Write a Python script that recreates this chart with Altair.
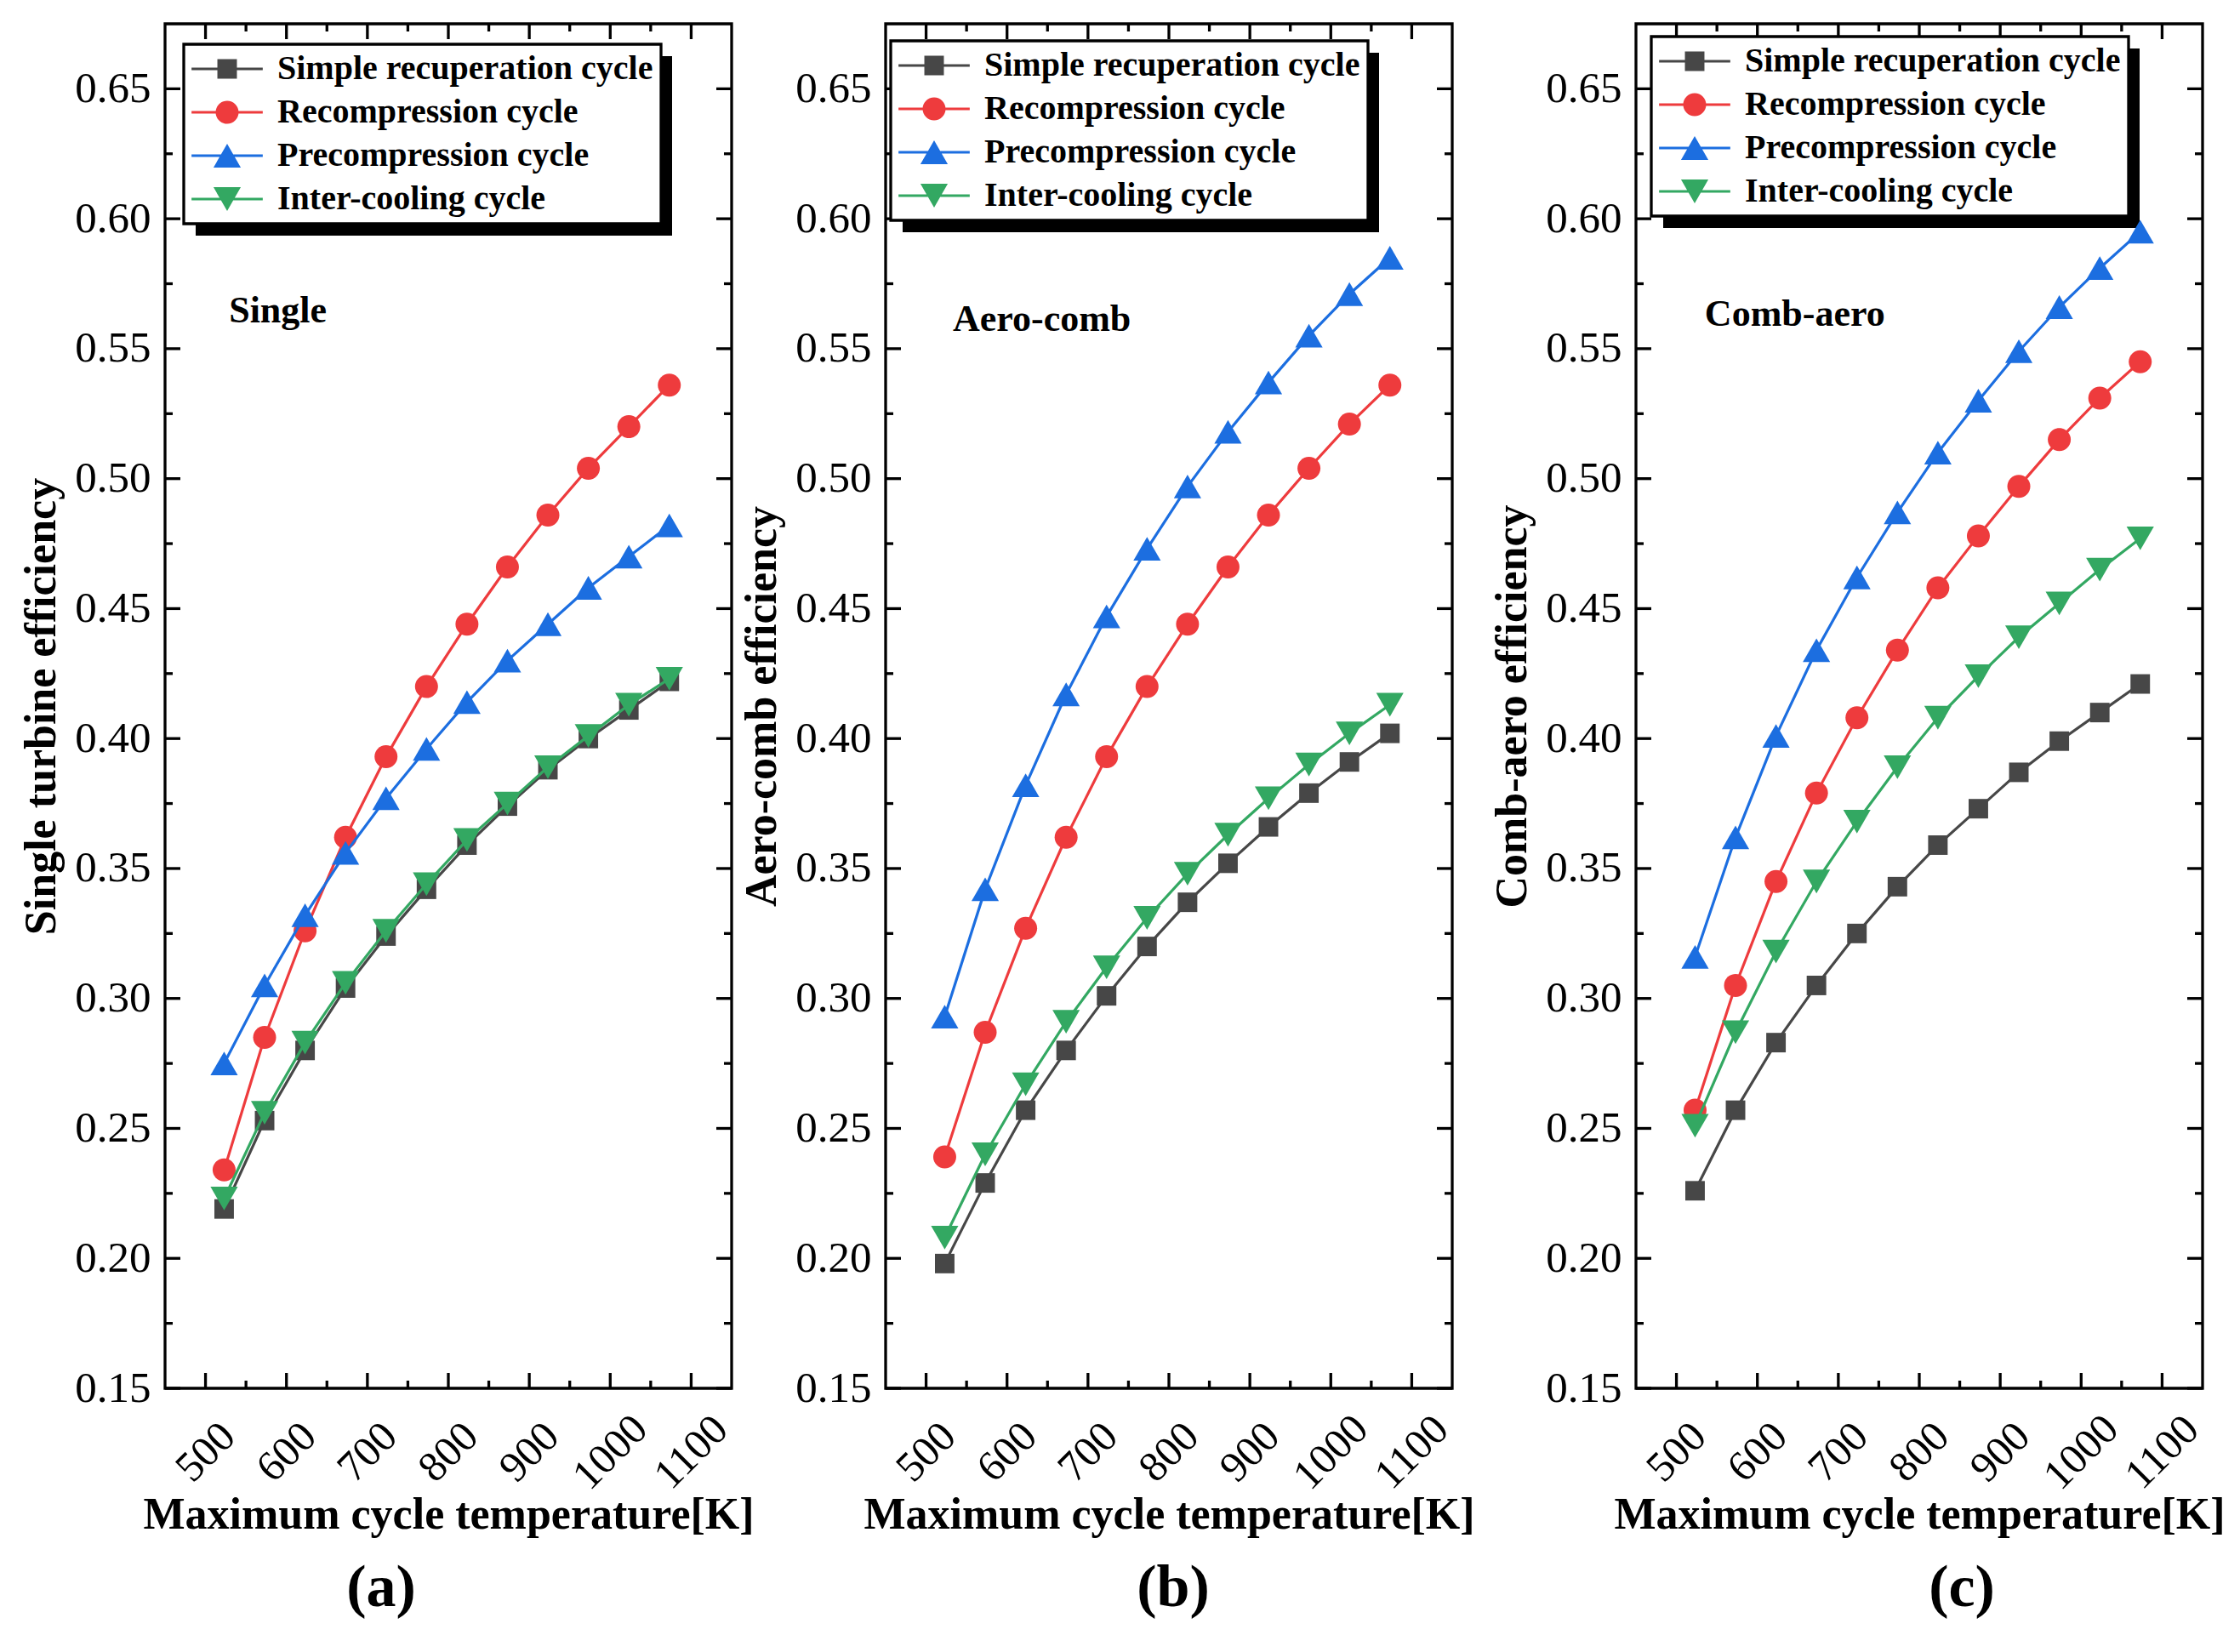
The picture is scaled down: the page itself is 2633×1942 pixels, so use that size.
import altair as alt
import pandas as pd

# ---------------- data ----------------
temps = [523, 573, 623, 673, 723, 773, 823, 873, 923, 973, 1023, 1073]
series_names = ["Simple recuperation cycle", "Recompression cycle",
                "Precompression cycle", "Inter-cooling cycle"]
series_colors = ["#474747", "#ee3b3d", "#1c6ee0", "#33a862"]

single_simple = [0.219, 0.253, 0.280, 0.304, 0.324, 0.342, 0.359, 0.374, 0.388, 0.400, 0.411, 0.422]
single_recomp = [0.234, 0.285, 0.326, 0.362, 0.393, 0.420, 0.444, 0.466, 0.486, 0.504, 0.520, 0.536]
single_precomp = [0.275, 0.305, 0.332, 0.356, 0.377, 0.396, 0.414, 0.430, 0.444, 0.458, 0.470, 0.482]
single_inter = [0.223, 0.256, 0.283, 0.306, 0.326, 0.344, 0.361, 0.375, 0.389, 0.401, 0.413, 0.423]

aero_simple = [0.198, 0.229, 0.257, 0.280, 0.301, 0.320, 0.337, 0.352, 0.366, 0.379, 0.391, 0.402]
aero_recomp = [0.239, 0.287, 0.327, 0.362, 0.393, 0.420, 0.444, 0.466, 0.486, 0.504, 0.521, 0.536]
aero_precomp = [0.293, 0.342, 0.382, 0.417, 0.447, 0.473, 0.497, 0.518, 0.537, 0.555, 0.571, 0.585]
aero_inter = [0.208, 0.240, 0.267, 0.291, 0.312, 0.331, 0.348, 0.363, 0.377, 0.390, 0.402, 0.413]

comb_simple = [0.226, 0.257, 0.283, 0.305, 0.325, 0.343, 0.359, 0.373, 0.387, 0.399, 0.410, 0.421]
comb_recomp = [0.257, 0.305, 0.345, 0.379, 0.408, 0.434, 0.458, 0.478, 0.497, 0.515, 0.531, 0.545]
comb_precomp = [0.316, 0.362, 0.401, 0.434, 0.462, 0.487, 0.510, 0.530, 0.549, 0.566, 0.581, 0.595]
comb_inter = [0.251, 0.287, 0.318, 0.345, 0.368, 0.389, 0.408, 0.424, 0.439, 0.452, 0.465, 0.477]

x_major = [500, 600, 700, 800, 900, 1000, 1100]
x_minor = [550, 650, 750, 850, 950, 1050]
y_major = [0.15, 0.20, 0.25, 0.30, 0.35, 0.40, 0.45, 0.50, 0.55, 0.60, 0.65]
y_minor = [0.175, 0.225, 0.275, 0.325, 0.375, 0.425, 0.475, 0.525, 0.575, 0.625]

# ---------------- styling ----------------
FONT = "Liberation Serif"
FONT_REG = "Times New Roman, Liberation Serif, Tinos, serif"
W, H = 666, 1604
MSIZE = 729
SQUARE = "M-0.85,-0.85H0.85V0.85H-0.85Z"
CIRCLE = "M-1,0A1,1 0 1,1 1,0A1,1 0 1,1 -1,0Z"
TRI_UP = "M0,-1.03L1.19,1.03L-1.19,1.03Z"
TRI_DN = "M0,1.03L-1.19,-1.03L1.19,-1.03Z"
BAR = "M-3.1,-0.12H3.1V0.12H-3.1Z"
marker_paths = [SQUARE, CIRCLE, TRI_UP, TRI_DN]
legend_paths = [BAR + " " + p for p in marker_paths]

xs = alt.Scale(domain=[450, 1150], nice=False, zero=False)
ys = alt.Scale(domain=[0.15, 0.675], nice=False, zero=False)

LEG_W, LEG_H, SHADOW = 560, 211, 14

XAXIS = dict(values=x_major, format="d", labelAngle=315, labelAlign="center",
             labelBaseline="middle", labelPadding=75, ticks=False, tickSize=0,
             domain=False, grid=False, labelFont=FONT_REG, labelFontSize=50,
             labelFontWeight="normal", labelColor="black", labelFlush=False,
             labelOverlap=False, title="Maximum cycle temperature[K]", titleFont=FONT,
             titleFontSize=52, titleFontWeight="bold", titleColor="black",
             titleY=148, titleBaseline="middle")


def yaxis_for(title):
    return alt.Axis(values=y_major, format=".2f", labelPadding=17, ticks=False,
                    tickSize=0, domain=False, grid=False, labelFont=FONT_REG,
                    labelFontSize=51, labelFontWeight="normal", labelColor="black",
                    labelFlush=False, labelOverlap=False, title=title, titleFont=FONT,
                    titleFontSize=52, titleFontWeight="bold", titleColor="black",
                    titlePadding=12)


def panel(values, ytitle, note, note_x, note_y, letter, letter_dx, lx, ly):
    xaxis = alt.Axis(**XAXIS)
    yaxis = yaxis_for(ytitle)
    X = lambda f: alt.X(f, scale=xs, axis=xaxis)
    Y = lambda f: alt.Y(f, scale=ys, axis=yaxis)

    layers = []
    shadow = alt.Chart(pd.DataFrame({"k": [0]})).mark_rect(color="black").encode(
        x=alt.value(lx + SHADOW), x2=alt.value(lx + SHADOW + LEG_W),
        y=alt.value(ly + SHADOW), y2=alt.value(ly + SHADOW + LEG_H))
    layers.append(shadow)

    # inner ticks on all four sides
    for vals, ln in ((x_major, 18), (x_minor, 9)):
        base = alt.Chart(pd.DataFrame({"v": vals})).mark_rule(color="black", strokeWidth=3.3)
        layers.append(base.encode(x=X("v:Q"), y=alt.value(H - ln), y2=alt.value(H)))
        layers.append(base.encode(x=X("v:Q"), y=alt.value(0), y2=alt.value(ln)))
    for vals, ln in ((y_major, 18), (y_minor, 9)):
        base = alt.Chart(pd.DataFrame({"v": vals})).mark_rule(color="black", strokeWidth=3.3)
        layers.append(base.encode(y=Y("v:Q"), x=alt.value(0), x2=alt.value(ln)))
        layers.append(base.encode(y=Y("v:Q"), x=alt.value(W - ln), x2=alt.value(W)))

    for i, (col, vals) in enumerate(zip(series_colors, values)):
        df = pd.DataFrame({"T": temps, "eff": vals})
        line = alt.Chart(df).mark_line(color=col, strokeWidth=3.2).encode(
            x=X("T:Q"), y=Y("eff:Q"))
        pts = alt.Chart(df).mark_point(shape=marker_paths[i], size=MSIZE, filled=True,
                                        color=col, opacity=1, strokeWidth=0).encode(
            x=X("T:Q"), y=Y("eff:Q"))
        layers += [line, pts]

    note_df = pd.DataFrame({"x": [note_x], "y": [note_y], "t": [note]})
    layers.append(alt.Chart(note_df).mark_text(font=FONT, fontSize=44, fontWeight="bold",
                                               align="left", baseline="middle",
                                               color="black").encode(
        x=X("x:Q"), y=Y("y:Q"), text="t:N"))

    legend = alt.Legend(orient="none", legendX=lx, legendY=ly, title=None,
                        direction="vertical", fillColor="white", strokeColor="black",
                        padding=9, rowPadding=11, labelFont=FONT, labelFontSize=40,
                        labelFontWeight="bold", labelColor="black", labelLimit=2000,
                        symbolSize=MSIZE, symbolStrokeWidth=0, symbolOffset=22,
                        labelOffset=39)
    leg_df = pd.DataFrame({"series": series_names})
    layers.append(alt.Chart(leg_df).transform_filter("false").mark_point(
        filled=True, size=MSIZE, opacity=1, strokeWidth=0).encode(
        color=alt.Color("series:N", scale=alt.Scale(domain=series_names, range=series_colors),
                        legend=legend),
        shape=alt.Shape("series:N", scale=alt.Scale(domain=series_names, range=legend_paths),
                        legend=legend)))

    return alt.layer(*layers).properties(
        width=W, height=H,
        title=alt.TitleParams(letter, orient="bottom", anchor="middle", frame="group",
                              font=FONT, fontSize=70, fontWeight="bold", color="black",
                              offset=27, dx=letter_dx))


def spacer(w):
    return alt.Chart(pd.DataFrame({"k": [0]})).mark_point(opacity=0).properties(
        width=w, height=H, view=alt.ViewBackground(strokeOpacity=0, fillOpacity=0))


pa = panel([single_simple, single_recomp, single_precomp, single_inter],
           "Single turbine efficiency", "Single", 529, 0.5645, "(a)", -79, 22, 24)
pb = panel([aero_simple, aero_recomp, aero_precomp, aero_inter],
           "Aero-comb efficiency", "Aero-comb", 533, 0.561, "(b)", 5, 6, 20)
pc = panel([comb_simple, comb_recomp, comb_precomp, comb_inter],
           "Comb-aero efficiency", "Comb-aero", 535, 0.563, "(c)", 50, 18, 15)

chart = alt.hconcat(pa, spacer(181), pb, spacer(216), pc, spacing=0, bounds="flush").resolve_scale(
    color="independent", shape="independent").resolve_legend(
    color="independent", shape="independent").properties(
    padding={"left": 13, "top": 16, "right": 5, "bottom": 5}).configure(
    font=FONT).configure_axis(labelFont=FONT_REG, titleFont=FONT).configure_view(
    stroke="black", strokeWidth=3.3).configure_legend(strokeWidth=3.3)

chart.save("out.html", embed_options={"renderer": "svg", "actions": False})
